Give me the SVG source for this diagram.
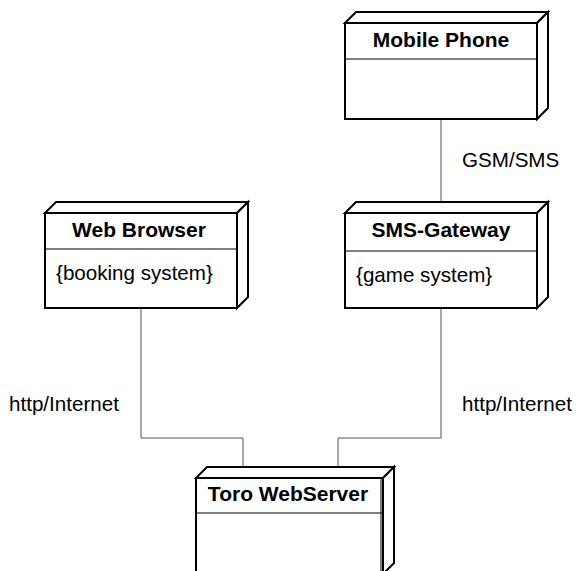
<svg xmlns="http://www.w3.org/2000/svg" width="576" height="571" viewBox="0 0 576 571">
  <style>
    .face { fill: #ffffff; stroke: #000000; stroke-width: 2; stroke-linejoin: miter; }
    .div { stroke: #000000; stroke-width: 1; fill: none; }
    .title { font-family: "Liberation Sans", Arial, sans-serif; font-weight: bold; font-size: 21px; text-anchor: middle; fill: #000000; }
    .body { font-family: "Liberation Sans", Arial, sans-serif; font-size: 20.6px; fill: #000000; }
    .conn { stroke: #555555; stroke-width: 1; fill: none; }
    .lbl { font-family: "Liberation Sans", Arial, sans-serif; font-size: 20.6px; fill: #000000; }
  </style>
  <rect width="576" height="571" fill="#ffffff"/>

  <!-- connectors -->
  <g id="connectors">
    <line class="conn" x1="441" y1="119" x2="441" y2="202"/>
    <polyline class="conn" points="141,308 141,438 243,438 243,467"/>
    <polyline class="conn" points="441,308 441,438 338,438 338,467"/>
    <text class="lbl" x="462" y="167">GSM/SMS</text>
    <text class="lbl" x="9" y="411">http/Internet</text>
    <text class="lbl" x="462" y="411">http/Internet</text>
  </g>

  <!-- Mobile Phone -->
  <g id="mobile-phone">
    <polygon class="face" points="345,23 356,12 548,12 537,23"/>
    <polygon class="face" points="537,23 548,12 548,108 537,119"/>
    <rect class="face" x="345" y="23" width="192" height="96"/>
    <line class="div" x1="345" y1="59" x2="537" y2="59"/>
    <text class="title" x="441" y="47">Mobile Phone</text>
  </g>

  <!-- Web Browser -->
  <g id="web-browser">
    <polygon class="face" points="45,213 56,202 248,202 237,213"/>
    <polygon class="face" points="237,213 248,202 248,297 237,308"/>
    <rect class="face" x="45" y="213" width="192" height="95"/>
    <line class="div" x1="45" y1="249" x2="237" y2="249"/>
    <text class="title" x="139" y="237">Web Browser</text>
    <text class="body" x="56" y="280">{booking system}</text>
  </g>

  <!-- SMS-Gateway -->
  <g id="sms-gateway">
    <polygon class="face" points="345,213 356,202 548,202 537,213"/>
    <polygon class="face" points="537,213 548,202 548,297 537,308"/>
    <rect class="face" x="345" y="213" width="192" height="95"/>
    <line class="div" x1="345" y1="251" x2="537" y2="251"/>
    <text class="title" x="441" y="237">SMS-Gateway</text>
    <text class="body" x="356" y="282">{game system}</text>
  </g>

  <!-- Toro WebServer (extends past the bottom edge) -->
  <g id="toro-webserver">
    <polygon class="face" points="196,478 207,467 394,467 383,478"/>
    <polygon class="face" points="383,478 394,467 394,563 383,574"/>
    <rect class="face" x="196" y="478" width="187" height="100"/>
    <line class="div" x1="381" y1="478" x2="381" y2="578"/>
    <line class="div" x1="196" y1="513" x2="383" y2="513"/>
    <text class="title" x="288" y="501">Toro WebServer</text>
  </g>
</svg>
